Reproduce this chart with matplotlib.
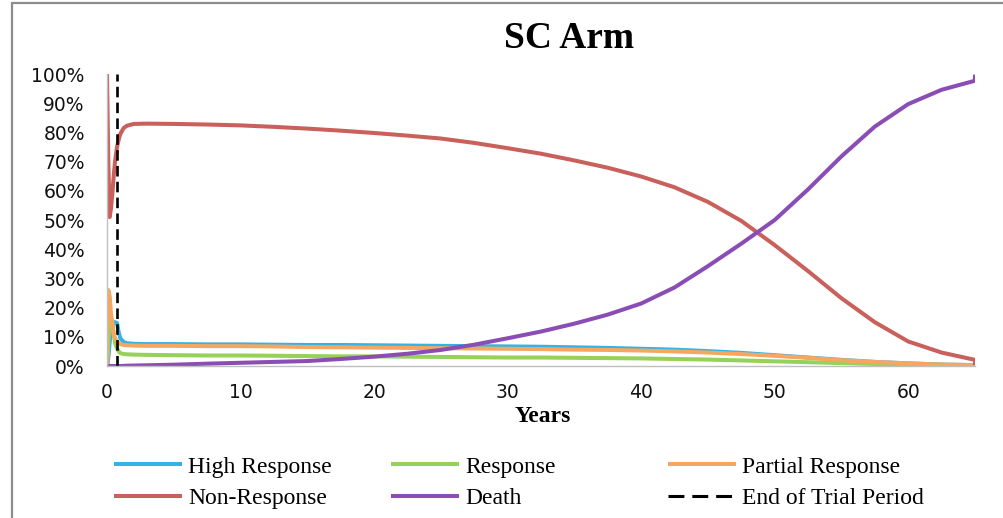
import matplotlib
matplotlib.use("Agg")
import matplotlib.pyplot as plt
from matplotlib.lines import Line2D
from matplotlib.patches import Rectangle
from matplotlib.ticker import FuncFormatter, MultipleLocator

# ---- data (years, percent) ----
years = [0, 0.05, 0.1, 0.2, 0.3, 0.4, 0.5, 0.6, 0.75, 0.9, 1.0, 1.25, 1.5,
         2, 3, 5,
         7.5, 10, 12.5, 15, 17.5, 20, 22.5, 25, 27.5, 30, 32.5, 35, 37.5, 40,
         42.5, 45, 47.5, 50, 52.5, 55, 57.5, 60, 62.5, 65,
         65]
high_response = [0, 1, 3, 8, 12, 14, 15, 15, 14.7, 11, 9.5, 8.2, 7.8,
                 7.6, 7.5, 7.5,
                 7.4, 7.4, 7.3, 7.2, 7.2, 7.1, 7.0, 6.9, 6.8, 6.7, 6.6, 6.4, 6.2, 5.9,
                 5.6, 5.1, 4.5, 3.7, 2.9, 2.1, 1.4, 0.9, 0.5, 0.3,
                 0]
response = [0, 3, 8, 14, 17, 15, 11, 8, 6, 4.8, 4.4, 4.1, 4.0,
            3.9, 3.8, 3.7,
            3.6, 3.6, 3.5, 3.4, 3.3, 3.3, 3.2, 3.1, 3.0, 2.9, 2.9, 2.8, 2.7, 2.6,
            2.4, 2.2, 1.9, 1.6, 1.3, 1.0, 0.7, 0.5, 0.3, 0.2,
            0]
partial_response = [0, 20, 26, 24, 18, 14, 11, 9.5, 8.5, 7.8, 7.5, 7.2, 7.1,
                    7.0, 6.9, 6.9,
                    6.8, 6.8, 6.7, 6.5, 6.4, 6.3, 6.2, 6.1, 6.0, 5.9, 5.8, 5.6, 5.5, 5.3,
                    5.0, 4.6, 4.1, 3.5, 2.8, 2.0, 1.4, 0.9, 0.5, 0.3,
                    0]
non_response = [100, 85, 70, 51, 54, 59, 65, 70, 75, 78, 79.5, 81.5, 82.3,
                82.9, 83, 82.9,
                82.7, 82.4, 81.9, 81.3, 80.6, 79.8, 78.9, 77.9, 76.4, 74.6, 72.7, 70.4, 67.9, 64.9,
                61.2, 56.2, 49.7, 41.4, 32.5, 23.2, 15.0, 8.4, 4.6, 2.1,
                0.3]
death = [0, 0, 0, 0, 0, 0, 0, 0, 0, 0, 0, 0.05, 0.1,
         0.15, 0.25, 0.45,
         0.8, 1.1, 1.4, 1.7, 2.4, 3.2, 4.2, 5.5, 7.3, 9.5, 11.8, 14.5, 17.6, 21.4,
         26.9, 34.2, 41.9, 50.0, 60.5, 71.8, 82.0, 89.7, 94.6, 97.7,
         99.8]
end_of_trial = 0.75

series = [
    ("High Response", high_response, "#33b3e6"),
    ("Response", response, "#96d15a"),
    ("Partial Response", partial_response, "#f5a762"),
    ("Non-Response", non_response, "#c9605c"),
    ("Death", death, "#8a4db6"),
]

W, H = 1004, 518
fig = plt.figure(figsize=(W / 100, H / 100), dpi=100)

# outer frame
fig.patches.append(Rectangle((12 / W, -0.1), 2.0, (H - 3) / H + 0.1, transform=fig.transFigure,
                             fill=False, edgecolor="#8c8c8c", linewidth=1.6))

ax = fig.add_axes([107 / W, 1 - 366 / H, (975 - 107) / W, (366 - 74) / H])

lines = {}
for name, vals, col in series:
    (ln,) = ax.plot(years, [v / 100 for v in vals], color=col, lw=2.9,
                    solid_joinstyle="round", solid_capstyle="butt", label=name)
    lines[name] = ln
ax.axvline(end_of_trial, color="black", lw=1.9, dashes=(4, 2))

ax.set_xlim(0, 65)
ax.set_ylim(0, 1)
ax.set_xticks([0, 10, 20, 30, 40, 50, 60])
ax.yaxis.set_major_locator(MultipleLocator(0.1))
ax.yaxis.set_major_formatter(FuncFormatter(lambda v, p: f"{round(v * 100)}%"))
for s in ["top", "right"]:
    ax.spines[s].set_visible(False)
for s in ["left", "bottom"]:
    ax.spines[s].set_color("#bfbfbf")
    ax.spines[s].set_linewidth(1.0)
ax.tick_params(axis="both", length=0, labelsize=13.5, colors="#111111")
ax.tick_params(axis="x", pad=12)
ax.tick_params(axis="y", pad=16)
for lab in ax.get_xticklabels() + ax.get_yticklabels():
    lab.set_family("DejaVu Sans")

fig.text(569 / W, 1 - 38 / H, "SC Arm", ha="center", va="center",
         family="Liberation Serif", fontweight="bold", fontsize=27)
fig.text(543 / W, 1 - 416 / H, "Years", ha="center", va="center",
         family="Liberation Serif", fontweight="bold", fontsize=17)

legend_cols = [
    (114, [("High Response", lines["High Response"]), ("Non-Response", lines["Non-Response"])]),
    (391, [("Response", lines["Response"]), ("Death", lines["Death"])]),
    (668, [("Partial Response", lines["Partial Response"]),
           ("End of Trial Period", Line2D([], [], color="black", lw=2.2, dashes=(5.2, 2.6)))]),
]
for x0, items in legend_cols:
    fig.legend([h for _, h in items], [n for n, _ in items],
               loc="upper left", bbox_to_anchor=(x0 / W, 1 - 456 / H),
               frameon=False, handlelength=2.9, handletextpad=0.25,
               labelspacing=0.42, borderpad=0, borderaxespad=0,
               prop={"family": "Liberation Serif", "size": 17})

fig.savefig("out.png", dpi=100)
